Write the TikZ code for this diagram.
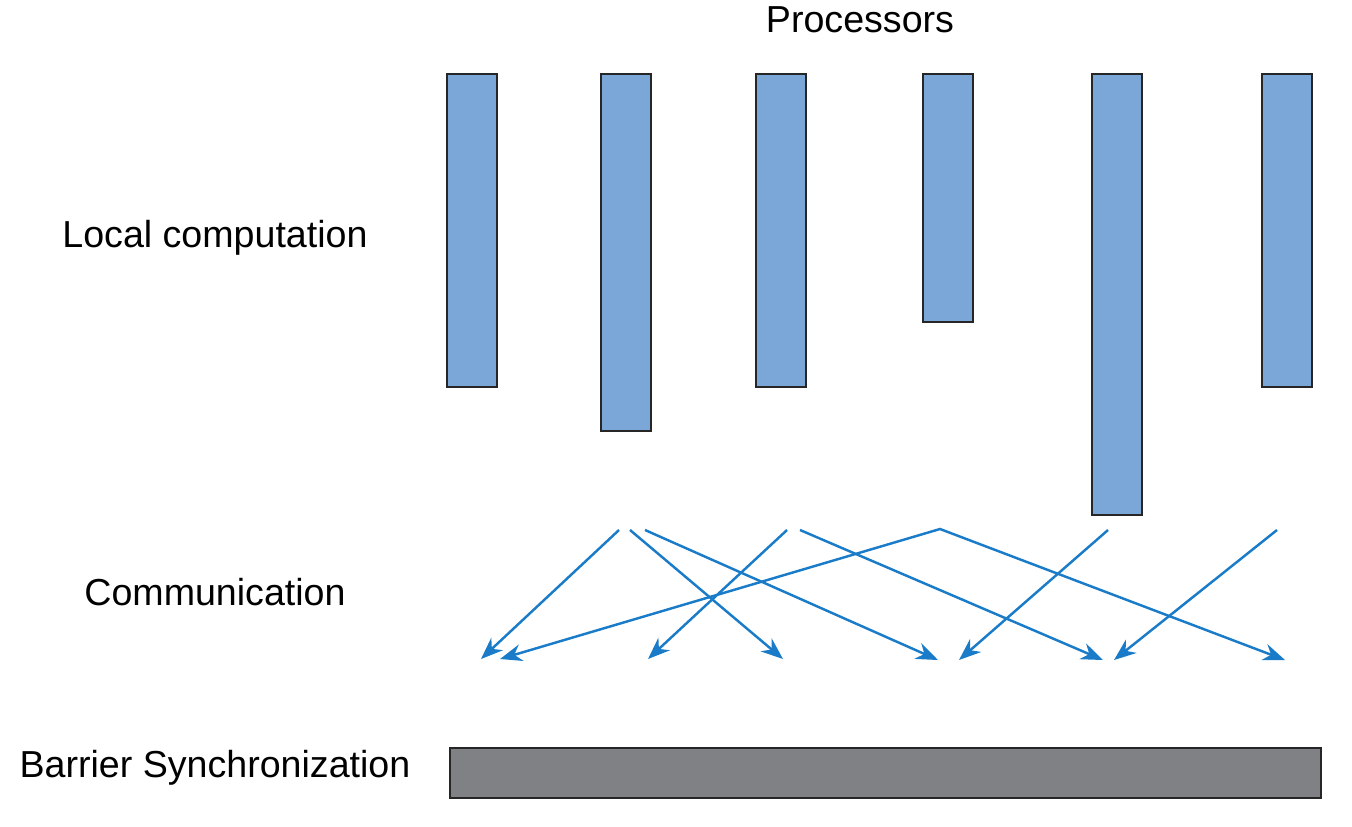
\documentclass[tikz,border=0pt]{standalone}
\usepackage{fontspec}
\setmainfont{Liberation Sans}
\usepackage{xcolor}
\usetikzlibrary{arrows.meta,positioning}

\definecolor{procblue}{RGB}{122,166,216}
\definecolor{msgblue}{RGB}{26,124,200}
\definecolor{bargray}{RGB}{128,129,133}

\tikzset{
  proc/.style={draw=black!85,line width=1.4pt,fill=procblue,anchor=north west,
    minimum width=1cm,inner sep=0pt},
  msg/.style={msgblue,line width=1.4pt,-{Stealth[length=4.4mm,width=3.4mm]}},
  lbl/.style={font=\fontsize{21.4}{25}\selectfont}
}

\begin{document}
\begin{tikzpicture}[x=0.02cm,y=-0.02cm]
      \useasboundingbox (0,0) rectangle (1352,826);

      % Labels
      \node[lbl] (procs) at (860,20) {Processors};
      \node[lbl] (local) at (215,238) {Local computation};
      \node[lbl] (comm) at (215,592) {Communication};
      \node[lbl] (sync) at (215,768) {Barrier Synchronization};

      % Processors
      \node[proc,minimum height=6.26cm] (p1) at (446,73) {};
      \node[proc,minimum height=7.14cm] (p2) at (600,73) {};
      \node[proc,minimum height=6.26cm] (p3) at (755,73) {};
      \node[proc,minimum height=4.96cm] (p4) at (922,73) {};
      \node[proc,minimum height=8.82cm] (p5) at (1091,73) {};
      \node[proc,minimum height=6.26cm] (p6) at (1261,73) {};

      % Messages
      \coordinate (s1) at (619,530);
      \coordinate (s2) at (630,530);
      \coordinate (s3) at (645,530);
      \coordinate (s4) at (787,530);
      \coordinate (s5) at (800,530);
      \coordinate (s6) at (940,529);
      \coordinate (s7) at (1108,530);
      \coordinate (s8) at (1277,530);
      \coordinate (r1) at (481,659);
      \coordinate (r2) at (500,659);
      \coordinate (r3) at (648,659);
      \coordinate (r4) at (783,659);
      \coordinate (r5) at (938,660);
      \coordinate (r6) at (959,660);
      \coordinate (r7) at (1103,660);
      \coordinate (r8) at (1114,660);
      \coordinate (r9) at (1285,660);

      \draw[msg] (s1) -- (r1);
      \draw[msg] (s2) -- (r4);
      \draw[msg] (s3) -- (r5);
      \draw[msg] (s4) -- (r3);
      \draw[msg] (s5) -- (r7);
      \draw[msg,{Stealth[length=4.4mm,width=3.4mm]}-{Stealth[length=4.4mm,width=3.4mm]}]
        (r2) -- (s6) -- (r9);
      \draw[msg] (s7) -- (r6);
      \draw[msg] (s8) -- (r8);

      % Barrier
      \node[draw=black!85,line width=1.4pt,fill=bargray,anchor=north west,
        minimum width=17.42cm,minimum height=1cm,inner sep=0pt] (bar) at (449,747) {};
    \end{tikzpicture}
\end{document}
